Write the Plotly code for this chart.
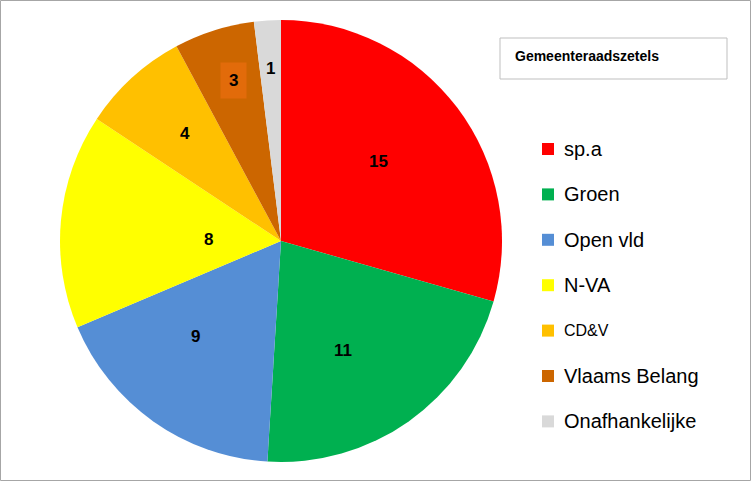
import math
import plotly.graph_objects as go

# ---- data ----
parties = ["sp.a", "Groen", "Open vld", "N-VA", "CD&V", "Vlaams Belang", "Onafhankelijke"]
seats = [15, 11, 9, 8, 4, 3, 1]
colors = ["#FF0000", "#00B050", "#558ED5", "#FFFF00", "#FFC000", "#CC6600", "#D9D9D9"]
title_text = "Gemeenteraadszetels"

# ---- style / layout ----
W, H = 752, 482
FONT = "Liberation Sans, Arial, sans-serif"
cx, cy, R = 281, 241, 221          # pie centre / radius in px
label_r = [0.57, 0.57, 0.575, 0.33, 0.66, 0.76, 0.78]   # label radial placement
label_nudge = [(-3, -4), (-11, 7), (-12, -8), (0, 5), (2, 0), (3, 0), (0, 0)]  # px tweaks
legend_font = [20, 20, 20, 20, 16, 20, 20]

fig = go.Figure(go.Pie(
    labels=parties,
    values=seats,
    sort=False,
    direction="clockwise",
    rotation=0,
    marker=dict(colors=colors, line=dict(width=0)),
    textinfo="none",
    hoverinfo="label+value",
    showlegend=False,
    domain=dict(x=[(cx - R) / W, (cx + R) / W],
                y=[(H - cy - R) / H, (H - cy + R) / H]),
))

annotations = []
shapes = []

# data labels placed at slice mid-angles computed from the data
total = sum(seats)
cum = 0
for i, v in enumerate(seats):
    mid = (cum + v / 2) / total * 2 * math.pi
    cum += v
    px = cx + label_r[i] * R * math.sin(mid) + label_nudge[i][0]
    py = cy - label_r[i] * R * math.cos(mid) + label_nudge[i][1]
    ann = dict(x=px / W, y=1 - py / H, xref="paper", yref="paper",
               xanchor="center", yanchor="middle",
               text=f"<b>{v}</b>", showarrow=False,
               font=dict(family=FONT, size=17, color="black"))
    if parties[i] == "Vlaams Belang":
        ann.update(bgcolor="#E26B0A", borderpad=8)
    annotations.append(ann)

# legend drawn from the party list
leg_y0, leg_dy = 149, 45.4
sq_x0, sq = 542, 12
txt_x = 562
for i, (p, c) in enumerate(zip(parties, colors)):
    yc = leg_y0 + i * leg_dy
    shapes.append(dict(type="rect", xref="paper", yref="paper",
                       x0=sq_x0 / W, x1=(sq_x0 + sq) / W,
                       y0=1 - (yc + sq / 2) / H, y1=1 - (yc - sq / 2) / H,
                       fillcolor=c, line=dict(width=0)))
    annotations.append(dict(x=txt_x / W, y=1 - yc / H, xref="paper", yref="paper",
                            xanchor="left", yanchor="middle", text=p, showarrow=False,
                            font=dict(family=FONT, size=legend_font[i], color="black")))

# title box
shapes.append(dict(type="rect", xref="paper", yref="paper",
                   x0=500 / W, x1=727 / W, y0=1 - 79 / H, y1=1 - 38 / H,
                   line=dict(color="#BFBFBF", width=1), fillcolor="white"))
annotations.append(dict(x=513 / W, y=1 - 56 / H, xref="paper", yref="paper",
                        xanchor="left", yanchor="middle", text=f"<b>{title_text}</b>",
                        showarrow=False, font=dict(family=FONT, size=14, color="black")))

# outer chart border
shapes.append(dict(type="rect", xref="paper", yref="paper",
                   x0=0.5 / W, x1=1 - 1.5 / W, y0=1.5 / H, y1=1 - 0.5 / H,
                   line=dict(color="#A6A6A6", width=1)))

fig.update_layout(
    width=W, height=H,
    margin=dict(l=0, r=0, t=0, b=0),
    paper_bgcolor="white", plot_bgcolor="white",
    annotations=annotations, shapes=shapes,
    showlegend=False,
)

fig.write_html("out.html")
